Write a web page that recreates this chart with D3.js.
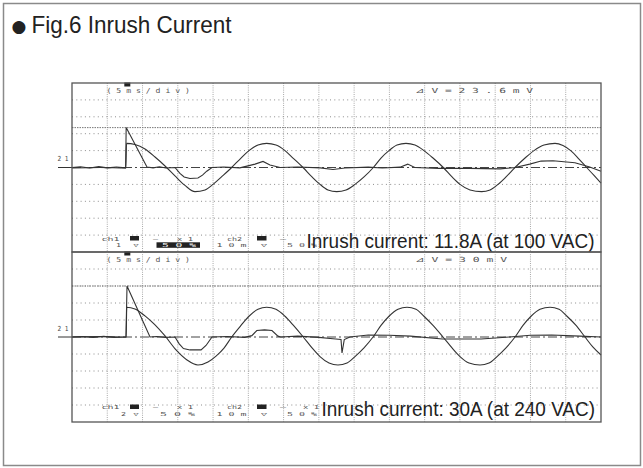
<!DOCTYPE html>
<html><head><meta charset="utf-8">
<script src="https://cdn.jsdelivr.net/npm/d3@7"></script>
<style>body{margin:0;background:#fff}svg{display:block}</style>
</head><body>
<script>
// ---------- data (time in ms, value in divisions) ----------
const title = "Fig.6 Inrush Current";
const captions = ["Inrush current: 11.8A (at 100 VAC)", "Inrush current: 30A (at 240 VAC)"];
const timebaseLabel = "( 5 m s / d i v )";
const deltaLabels = ["⊿ V = 2 3 . 6 m V", "⊿ V = 3 0 m V"];
const ch1Volts = ["1 V", "2 V"];
const ch2Volts = "1 0 m V";
const levelLabel = "2 1";
const cursorLevels = [2.36, 3.0];
const timeDomain = [0, 75];
const divDomain = [-5, 5];
const gridTimes = [5, 10, 15, 20, 25, 30, 35, 40, 45, 50, 55, 60, 65, 70];
const gridDivs = [-4, -3, -2, -1, 0, 1, 2, 3, 4];

const topSine = [[0,-0.03],[4.0,0.0],[7.63,-0.03],[7.73,1.43],[8.93,1.36],[10.35,1.09],[11.77,0.62],[13.19,0.09],[14.6,-0.5],[16.02,-1.06],[17.44,-1.43],[18.86,-1.33],[19.99,-1.0],[21.26,-0.53],[22.64,0],[23.96,0.56],[25.09,1.0],[26.37,1.33],[27.6,1.43],[28.92,1.33],[30.2,1.0],[31.33,0.56],[32.75,0],[34.03,-0.56],[35.16,-1.0],[36.29,-1.33],[37.53,-1.43],[38.85,-1.33],[40.12,-1.0],[41.4,-0.56],[42.72,0],[43.81,0.56],[44.94,1.0],[46.08,1.33],[47.35,1.43],[48.63,1.33],[49.9,1.0],[51.18,0.56],[52.64,0],[53.88,-0.56],[55.01,-1.0],[56.43,-1.33],[58.08,-1.43],[59.27,-1.33],[60.4,-1.0],[61.53,-0.56],[62.81,0],[64.23,0.56],[65.5,1.0],[66.92,1.33],[68.48,1.43],[69.61,1.3],[70.75,0.98],[71.88,0.5],[72.97,0],[74.01,-0.47],[75,-0.92]];
const topSpike = [[0,0],[1.2,0.04],[2.5,-0.03],[3.8,0.05],[5.0,-0.02],[6.3,0.03],[7.6,-0.02],[7.68,2.36],[10.63,0.03],[11.5,-0.02],[12.4,0.04],[13.3,-0.03],[14.6,0],[15.3,-0.35],[15.9,-0.56],[16.73,-0.65],[17.86,-0.62],[18.5,-0.45],[19.1,-0.22],[19.85,0],[21.5,0.03],[23.8,-0.02],[25.95,0.2],[27.08,0.36],[28.07,0.15],[29.5,0.0],[32,0.03],[35.2,-0.02],[37.0,-0.12],[38.7,-0.03],[42,0.02],[44,-0.03],[46.5,0.02],[47.6,0.2],[48.6,0.0],[52,-0.05],[56.4,-0.05],[60.7,-0.08],[62.8,0],[64.9,0.2],[66.5,0.38],[68.2,0.4],[71.3,0.28],[73.4,0.03],[75,-0.22]];
const botSine = [[0,0],[4.0,0.02],[7.68,0],[7.76,1.75],[8.93,1.65],[10.35,1.24],[11.77,0.71],[13.19,0.06],[14.75,-0.76],[16.3,-1.35],[17.86,-1.65],[19.28,-1.47],[20.42,-1.12],[21.55,-0.65],[22.64,0],[23.96,0.68],[25.09,1.22],[26.37,1.63],[27.6,1.75],[28.92,1.63],[30.2,1.22],[31.4,0.68],[32.79,0],[34.03,-0.64],[35.16,-1.15],[36.44,-1.53],[37.71,-1.65],[38.99,-1.53],[40.12,-1.15],[41.4,-0.64],[42.68,0],[43.81,0.68],[44.94,1.22],[46.22,1.63],[47.5,1.75],[48.77,1.63],[49.9,1.22],[51.18,0.68],[52.6,0],[53.88,-0.64],[55.01,-1.15],[56.29,-1.53],[57.85,-1.65],[59.12,-1.53],[60.26,-1.15],[61.53,-0.64],[62.81,0],[63.94,0.68],[65.08,1.22],[66.35,1.63],[67.77,1.75],[69.05,1.63],[70.18,1.22],[71.46,0.68],[72.73,0],[73.87,-0.6],[75,-1.06]];
const botSpike = [[0,0],[1.5,0.03],[3,-0.02],[4.5,0.04],[6,-0.03],[7.65,0],[7.8,3.0],[11.06,0],[12,0.03],[13.3,-0.02],[14.6,0],[15.2,-0.4],[15.8,-0.68],[16.73,-0.76],[18.3,-0.76],[19.0,-0.5],[19.85,0],[22,0.03],[24.5,-0.02],[25.5,0.08],[26.2,0.38],[27.3,0.42],[28.35,0.38],[29.2,0.05],[29.6,0],[32,0.05],[35,-0.02],[37,-0.1],[38.14,-0.15],[38.28,-0.94],[38.6,-0.15],[39.4,0],[42,0.12],[45,0.1],[48,0.05],[52.5,-0.12],[58,-0.12],[62,0],[65,0.1],[68,0.12],[72,0.05],[75,0]];

const sines = [topSine, botSine];
const spikes = [topSpike, botSpike];

// ---------- drawing ----------
const W = 643, H = 468;
const svg = d3.select("body").append("svg").attr("width", W).attr("height", H);

svg.append("rect").attr("x", 3.5).attr("y", 3.5).attr("width", 637).attr("height", 462)
  .attr("fill", "#fff").attr("stroke", "#8a8a8a").attr("stroke-width", 1.5);

svg.append("text").attr("x", 11.5).attr("y", 32).attr("font-family", "DejaVu Sans")
  .attr("font-size", 17).attr("fill", "#222").text("●");
svg.append("text").attr("x", 31.5).attr("y", 33.3).attr("font-family", "Liberation Sans, Arial")
  .attr("font-size", 24.5).attr("fill", "#222").attr("textLength", 200)
  .attr("lengthAdjust", "spacingAndGlyphs").text(title);

const panelBoxes = [{top: 83, bottom: 252}, {top: 252, bottom: 422}];
const left = 72, right = 601;
const mono = "DejaVu Sans Mono, monospace";

function tiny(g, x, y, len, str, fill, size) {
  g.append("text").attr("x", x).attr("y", y).attr("font-family", mono).attr("font-size", size || 7)
    .attr("fill", fill || "#555").attr("textLength", len).attr("lengthAdjust", "spacingAndGlyphs").text(str);
}

panelBoxes.forEach((pb, i) => {
  const g = svg.append("g");
  const x = d3.scaleLinear().domain(timeDomain).range([left, right]);
  const y = d3.scaleLinear().domain(divDomain).range([pb.bottom, pb.top]);
  const off = pb.top - 83;

  // grid
  g.selectAll(".vg").data(gridTimes).join("line")
    .attr("x1", d => x(d)).attr("x2", d => x(d)).attr("y1", pb.top).attr("y2", pb.bottom)
    .attr("stroke", "#a8a8a8").attr("stroke-width", 1).attr("stroke-dasharray", "1,1.2");
  g.selectAll(".hg").data(gridDivs.filter(d => d !== 0)).join("line")
    .attr("x1", left).attr("x2", right).attr("y1", d => y(d)).attr("y2", d => y(d))
    .attr("stroke", "#8c8c8c").attr("stroke-width", 1).attr("stroke-dasharray", "1,3.3");

  // cursor level
  g.append("line").attr("x1", left).attr("x2", right)
    .attr("y1", y(cursorLevels[i])).attr("y2", y(cursorLevels[i]))
    .attr("stroke", "#777").attr("stroke-width", 1).attr("stroke-dasharray", "1.5,1");

  // ground marker
  g.append("line").attr("x1", 58).attr("x2", left).attr("y1", y(0)).attr("y2", y(0))
    .attr("stroke", "#333").attr("stroke-width", 1);
  g.append("line").attr("x1", left).attr("x2", right).attr("y1", y(0)).attr("y2", y(0))
    .attr("stroke", "#444").attr("stroke-width", 1).attr("stroke-dasharray", "9,3,2,3");
  tiny(g, 57.5, y(0) - 6.5, 11, levelLabel, "#444");

  // traces
  const lineSine = d3.line().x(d => x(d[0])).y(d => y(d[1])).curve(d3.curveMonotoneX);
  const lineSpike = d3.line().x(d => x(d[0])).y(d => y(d[1]));
  g.append("path").attr("d", lineSine(sines[i])).attr("fill", "none")
    .attr("stroke", "#333").attr("stroke-width", 1.1);
  g.append("path").attr("d", lineSpike(spikes[i])).attr("fill", "none")
    .attr("stroke", "#333").attr("stroke-width", 1.1);

  // trigger marker
  g.append("rect").attr("x", x(7.7) - 2).attr("y", pb.top - 0.5).attr("width", 6).attr("height", 4)
    .attr("fill", "#222");

  // header texts
  tiny(g, 106.5, 93 + off, 83.5, timebaseLabel);
  tiny(g, 415, 92.5 + off, i === 0 ? 118 : 92, deltaLabels[i]);

  // footer texts (two rows)
  const fs = 5.5;
  const l1 = 240.5 + off - (i ? 0.5 : 0), l2 = 247.3 + off - (i ? 0.5 : 0);
  tiny(g, 101.5, l1, 18, "ch1", null, fs);
  g.append("rect").attr("x", 130).attr("y", l1 - 4.5).attr("width", 9).attr("height", 4.5).attr("fill", "#222");
  tiny(g, 153, l1, 5, "—", null, fs);
  tiny(g, 177, l1, 16, "x 1", null, fs);
  tiny(g, 227, l1, 15, "ch2", null, fs);
  g.append("rect").attr("x", 257).attr("y", l1 - 4.5).attr("width", 9.5).attr("height", 4.5).attr("fill", "#222");
  tiny(g, 280, l1, 6, "—", null, fs);
  if (i === 1) tiny(g, 303, l1, 16, "x 1", null, fs);

  tiny(g, i ? 121 : 116, l2, 5, ch1Volts[i].split(" ")[0], null, fs);
  tiny(g, 133.5, l2, 5, "▽", null, fs);
  if (i === 0) {
    g.append("rect").attr("x", 156.5).attr("y", l2 - 5).attr("width", 43.5).attr("height", 5.5).attr("fill", "#222");
    tiny(g, 162, l2, 34, "5 0 %", "#fff", fs);
  } else {
    tiny(g, 160, l2, 35, "5 0 %", null, fs);
  }
  tiny(g, 216.5, l2, 30, ch2Volts.replace(" V", ""), null, fs);
  tiny(g, 261, l2, 6, "▽", null, fs);
  tiny(g, 287, l2, 30, "5 0 %", null, fs);

  // caption
  g.append("text").attr("x", i === 0 ? 306.5 : 321.5).attr("y", i === 0 ? 247.5 : 416)
    .attr("font-family", "Liberation Sans, Arial").attr("font-size", 19.5).attr("fill", "#222")
    .attr("textLength", i === 0 ? 288 : 273.5).attr("lengthAdjust", "spacingAndGlyphs")
    .text(captions[i]);

  // panel frame
  g.append("rect").attr("x", left).attr("y", pb.top).attr("width", right - left).attr("height", pb.bottom - pb.top)
    .attr("fill", "none").attr("stroke", "#555").attr("stroke-width", 1.3);
});
</script>
</body></html>
